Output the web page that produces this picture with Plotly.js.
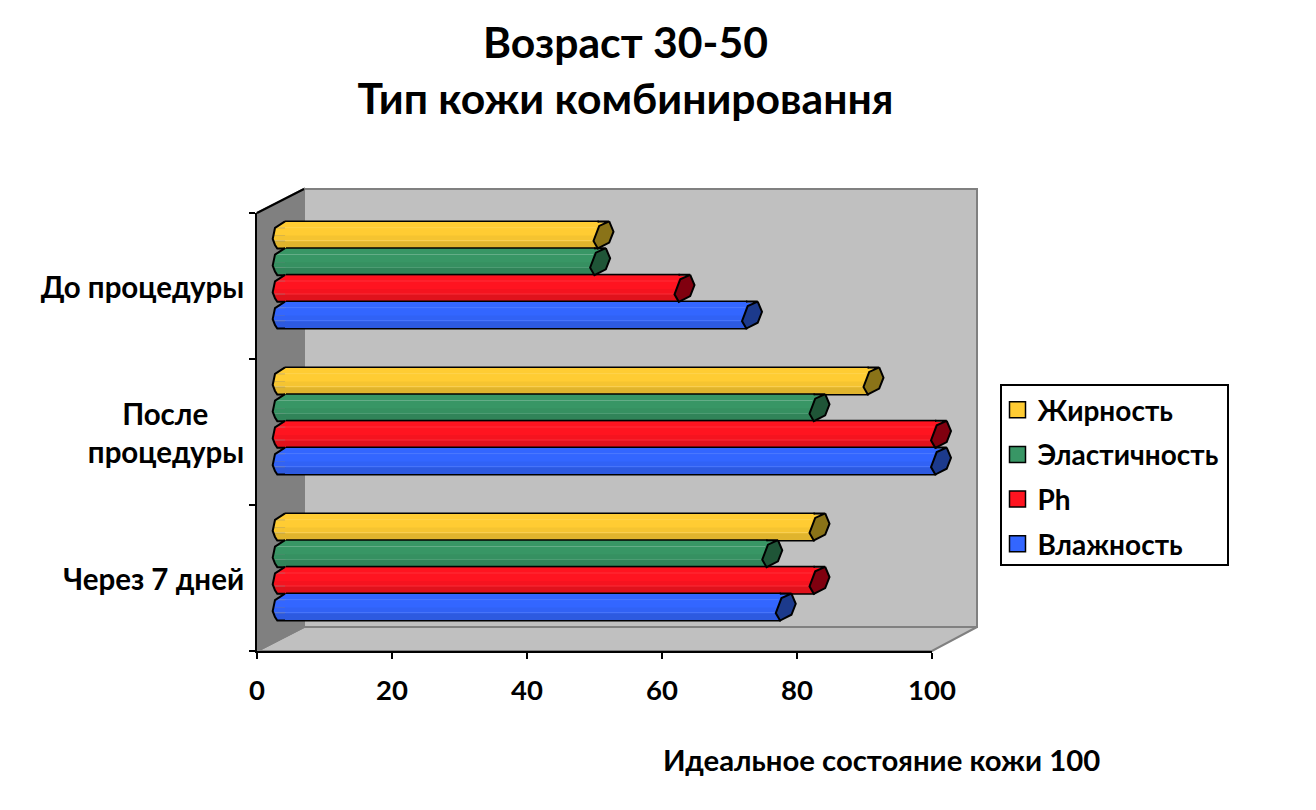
<!DOCTYPE html>
<html><head><meta charset="utf-8">
<script src="https://cdn.plot.ly/plotly-3.0.1.min.js"></script>
<style>html,body{margin:0;padding:0;background:#fff}</style></head>
<body><div id="chart" style="width:1316px;height:810px"></div>
<script>
const categories = ['До процедуры', 'После процедуры', 'Через 7 дней'];
const categoryTicks = ['До процедуры', 'После\u00a0\u00a0\u00a0\u00a0\u00a0<br>процедуры', 'Через 7 дней'];
const seriesNames = ['Жирность', 'Эластичность', 'Ph', 'Влажность'];
const zhirnost = [50, 90, 82];
const elastichnost = [49.5, 82, 75];
const ph = [62, 100, 82];
const vlazhnost = [72, 100, 77];
const allValues = [zhirnost, elastichnost, ph, vlazhnost];
const xTicks = [0, 20, 40, 60, 80, 100];

const W = 1316, H = 810;
const FONT = 'Lato, "Noto Sans", sans-serif';
const px = v => v / W, py = v => 1 - v / H;
const poly = pts => 'M' + pts.map(p => px(p[0]) + ',' + py(p[1])).join('L') + 'Z';

const seriesStyle = [
  {base: [255, 204, 51], cap: '#8a7318'},
  {base: [56, 150, 101], cap: '#1f5537'},
  {base: [255, 20, 32], cap: '#80000f'},
  {base: [51, 102, 255], cap: '#1c3a8c'}
];
const bands = [
  {a: -0.48, b: -0.28, f: 1.0, l: 0},
  {a: -0.28, b: -0.25, f: 1.0, l: 0.22},
  {a: -0.25, b: 0.02, f: 1.0, l: 0},
  {a: 0.02, b: 0.2, f: 0.96, l: 0},
  {a: 0.2, b: 0.23, f: 0.96, l: 0.22},
  {a: 0.23, b: 0.48, f: 0.88, l: 0}
];
const col = (c, f, l) => 'rgb(' + c.map(v => Math.round(v * f + (255 - v * f) * l)).join(',') + ')';

// bar axis geometry (the cylinders sit in the middle of the chart's depth)
const PXU = 6.75, PYU = 146, BAR_PX = 27;
const X0 = 260.3, CLIP = 285, LEFT3 = 262, RIGHT = 975, Y0 = 275, TOP = 189, BOT = 651;
const xStart = (CLIP - X0) / PXU;
const groupY = (g, s) => g + (s - 1.5) * (26.7 / PYU);
const barH = BAR_PX / PYU;
const capShape = [[5.7, -13.5], [10, -3.3], [5.7, 7.7], [-5.7, 13.5], [-10, 6], [-4.3, -9], [5.7, -13.5], [-6, -13.5], [5.7, -13.5]];
const endShape = [[-7, -12.5], [5.7, -12.5], [5.7, 0], [-7, 0]];
const leftOutline = [[0, -13.5], [-10, -7], [-12.3, 4], [-10, 10], [-7.7, 13.5], [0, 13.5]];
const leftX = d => {
  for (let i = 0; i < leftOutline.length - 2; i++) {
    const p = leftOutline[i], q = leftOutline[i + 1];
    if (d <= q[1]) return p[0] + (q[0] - p[0]) * (d - p[1]) / (q[1] - p[1]);
  }
  return leftOutline[leftOutline.length - 2][0];
};

const traces = [];
const base = {type: 'bar', orientation: 'h', xaxis: 'x2', yaxis: 'y2', hoverinfo: 'skip', showlegend: false};
allValues.forEach((vals, s) => {
  traces.push(Object.assign({}, base, {
    name: seriesNames[s], x: vals, y: categories.map((c, g) => groupY(g, s)),
    width: barH, marker: {color: col(seriesStyle[s].base, 1, 0), line: {color: '#000', width: 2}}
  }));
  bands.forEach(b => {
    traces.push(Object.assign({}, base, {
      name: seriesNames[s], x: vals, y: categories.map((c, g) => groupY(g, s)),
      width: (b.b - b.a) * barH, offset: b.a * barH,
      marker: {color: col(seriesStyle[s].base, b.f, b.l), line: {width: 0}}
    }));
  });
});
const shapeTrace = (xs, ys, extra) => Object.assign({
  type: 'scatter', mode: 'lines', x: xs, y: ys, xaxis: 'x3', yaxis: 'y2',
  cliponaxis: false, hoverinfo: 'skip', showlegend: false
}, extra);
allValues.forEach((vals, s) => {
  const st = seriesStyle[s];
  // left rounded ends, one slice per shading band
  bands.forEach(b => {
    const xs = [], ys = [];
    categories.forEach((c, g) => {
      const yc = groupY(g, s), da = b.a * BAR_PX, db = b.b * BAR_PX;
      [[leftX(da), da], [leftX(db), db], [1, db], [1, da], [leftX(da), da]].forEach(p => {
        xs.push(xStart + p[0] / PXU); ys.push(yc + p[1] / PYU);
      });
      xs.push(null); ys.push(null);
    });
    traces.push(shapeTrace(xs, ys, {fill: 'toself', fillcolor: col(st.base, b.f, b.l), line: {width: 0}}));
  });
  const ox = [], oy = [];
  categories.forEach((c, g) => {
    leftOutline.forEach(p => { ox.push(xStart + p[0] / PXU); oy.push(groupY(g, s) + p[1] / PYU); });
    ox.push(null); oy.push(null);
  });
  traces.push(shapeTrace(ox, oy, {line: {color: '#000', width: 2}}));
  // top edge continuation to the slanted cap
  const ex = [], ey = [];
  vals.forEach((v, g) => {
    endShape.concat([endShape[0]]).forEach(p => { ex.push(v + (5.7 + p[0]) / PXU); ey.push(groupY(g, s) + p[1] / PYU); });
    ex.push(null); ey.push(null);
  });
  traces.push(shapeTrace(ex, ey, {fill: 'toself', fillcolor: col(st.base, 1, 0), line: {width: 0}}));
});
allValues.forEach((vals, s) => {
  const cx = [], cy = [];
  vals.forEach((v, g) => {
    capShape.forEach(p => { cx.push(v + (5.7 + p[0]) / PXU); cy.push(groupY(g, s) + p[1] / PYU); });
    cx.push(null); cy.push(null);
  });
  traces.push(shapeTrace(cx, cy, {fill: 'toself', fillcolor: seriesStyle[s].cap, line: {color: '#000', width: 2}}));
});
// legend entries live on the visible axes
seriesNames.forEach((n, s) => {
  traces.push({
    type: 'scatter', mode: 'markers', name: n, legendgroup: n, x: [null], y: [null], xaxis: 'x', yaxis: 'y',
    hoverinfo: 'skip',
    marker: {symbol: 'square', size: 16, color: col(seriesStyle[s].base, 1, 0), line: {color: '#000', width: 1.5}}
  });
});

const wallLine = {color: '#808080', width: 2};
const layout = {
  width: W, height: H, margin: {l: 0, r: 0, t: 0, b: 0}, autosize: false,
  paper_bgcolor: '#fff', plot_bgcolor: 'rgba(0,0,0,0)',
  font: {family: FONT, color: '#000', weight: 700},
  title: {
    text: 'Возраст 30-50<br>Тип кожи комбинировання', x: 625.5 / W, xanchor: 'center', xref: 'paper', yref: 'paper', y: py(58), yanchor: 'middle',
    font: {family: FONT, size: 42.7, weight: 700, color: '#000'}
  },
  xaxis: {
    domain: [px(257), px(932)], range: [0, 100], anchor: 'y', tickvals: xTicks, ticktext: xTicks.map(String),
    ticks: 'outside', ticklen: 6, tickwidth: 2, tickcolor: '#000', showgrid: false, zeroline: false,
    showline: true, linecolor: '#000', linewidth: 2, ticklabelstandoff: 8, tickfont: {family: FONT, size: 27.5, weight: 700}
  },
  yaxis: {
    domain: [py(651), py(213)], range: [2.5, -0.5], anchor: 'x', tickvals: [0, 1, 2], ticktext: categoryTicks,
    ticks: '', showgrid: false, zeroline: false, showline: true, linecolor: '#000', linewidth: 2,
    ticklabelstandoff: 5, ticklabelshift: -2, tickfont: {family: FONT, size: 29.5, weight: 700},
    minor: {tickmode: 'array', tickvals: [-0.5, 0.5, 1.5, 2.5], ticks: 'outside', ticklen: 6, tickwidth: 2, tickcolor: '#000', showgrid: false}
  },
  xaxis2: {domain: [px(CLIP), px(RIGHT)], range: [xStart, (RIGHT - X0) / PXU], anchor: 'y2', visible: false, fixedrange: true},
  xaxis3: {domain: [px(LEFT3), px(RIGHT)], range: [(LEFT3 - X0) / PXU, (RIGHT - X0) / PXU], anchor: 'y2', visible: false, fixedrange: true},
  yaxis2: {domain: [py(BOT), py(TOP)], range: [(BOT - Y0) / PYU, (TOP - Y0) / PYU], anchor: 'x2', visible: false, fixedrange: true},
  barmode: 'overlay',
  showlegend: true,
  legend: {
    x: px(997.5), y: py(385), xanchor: 'left', yanchor: 'top', bgcolor: 'rgba(0,0,0,0)', borderwidth: 0,
    traceorder: 'grouped', tracegroupgap: 5.3, itemsizing: 'trace', itemclick: false, itemdoubleclick: false,
    font: {family: FONT, size: 28, weight: 700, color: '#000'}
  },
  shapes: [
    {type: 'path', xref: 'paper', yref: 'paper', layer: 'below', path: poly([[304, 189], [977, 189], [977, 627], [304, 627]]), fillcolor: '#c0c0c0', line: wallLine},
    {type: 'path', xref: 'paper', yref: 'paper', layer: 'below', path: poly([[257, 651], [304, 627], [977, 627], [932, 651]]), fillcolor: '#c0c0c0', line: wallLine},
    {type: 'path', xref: 'paper', yref: 'paper', layer: 'below', path: poly([[257, 213], [304, 189], [304, 627], [257, 651]]), fillcolor: '#808080', line: wallLine},
    {type: 'line', xref: 'paper', yref: 'paper', layer: 'below', x0: px(257), y0: py(213), x1: px(304), y1: py(189), line: {color: '#000', width: 2}},
    {type: 'path', xref: 'paper', yref: 'paper', layer: 'below', path: poly([[1001, 385], [1228, 385], [1228, 565], [1001, 565]]), fillcolor: '#fff', line: {color: '#000', width: 2}}
  ],
  annotations: [{
    text: 'Идеальное состояние кожи 100', xref: 'paper', yref: 'paper', x: px(881), y: py(759),
    xanchor: 'center', yanchor: 'middle', showarrow: false, font: {family: FONT, size: 29.3, weight: 700, color: '#000'}
  }]
};
Plotly.newPlot('chart', traces, layout, {displayModeBar: false, staticPlot: true});
</script></body></html>
